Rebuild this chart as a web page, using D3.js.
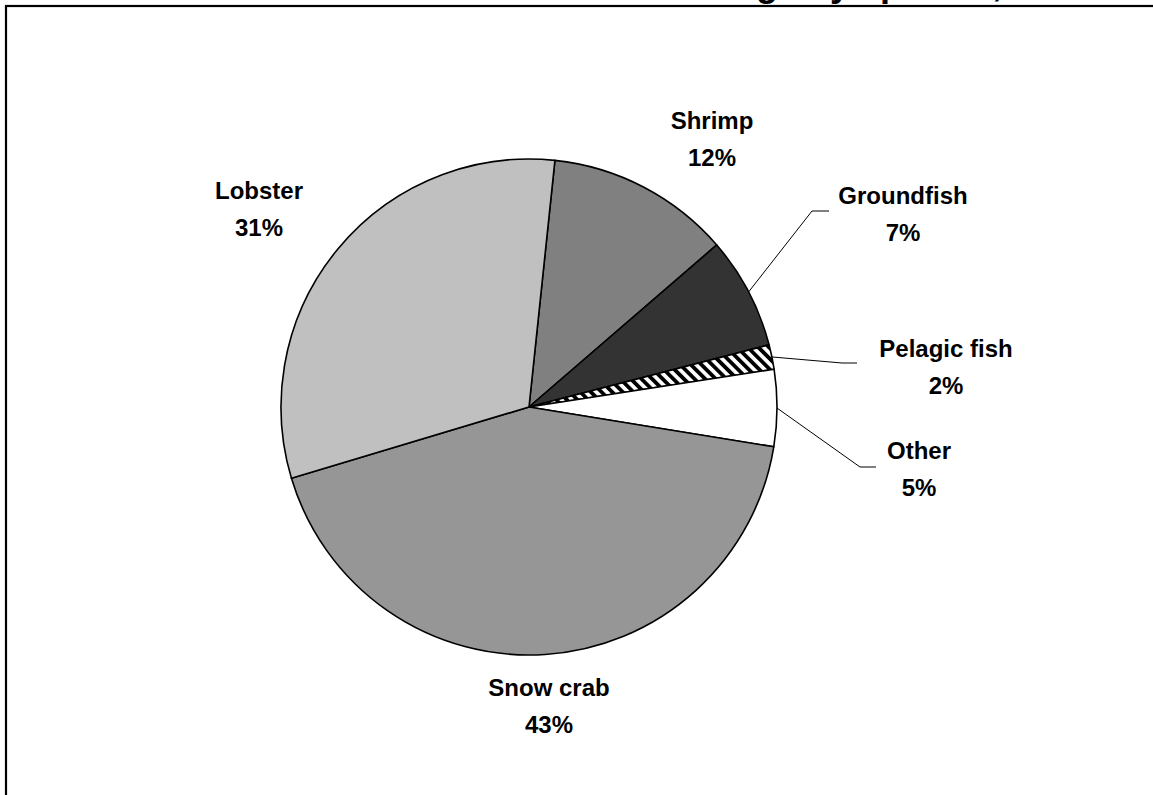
<!DOCTYPE html>
<html>
<head>
<meta charset="utf-8">
<script src="https://cdn.jsdelivr.net/npm/d3@7"></script>
<style>
  html, body { margin: 0; padding: 0; background: #fff; overflow: hidden; }
  svg { display: block; }
  text { font-family: Arial, "Liberation Sans", sans-serif; font-weight: bold; }
</style>
</head>
<body>
<svg id="chart" width="1153" height="795"></svg>
<script>
// ---- data ----
const categories = ["Shrimp", "Groundfish", "Pelagic fish", "Other", "Snow crab", "Lobster"];
const shares = [12.0, 7.3, 1.6, 5.0, 42.8, 31.3];
const titleText = "Value of landings by species, 2006";

// ---- layout / style (separate from data) ----
const fills = {
  "Shrimp": "#808080",
  "Groundfish": "#333333",
  "Pelagic fish": "url(#hatch)",
  "Other": "#ffffff",
  "Snow crab": "#969696",
  "Lobster": "#c0c0c0"
};
// label anchor offsets from pie centre (first line baseline)
const labelPos = {
  "Shrimp": [183, -278],
  "Lobster": [-270, -208],
  "Groundfish": [374, -203],
  "Pelagic fish": [417, -50],
  "Other": [390, 52],
  "Snow crab": [20, 289]
};
// leader line elbow & end (relative to centre) for small slices
const leaders = {
  "Groundfish": [[283, -196], [300, -196]],
  "Pelagic fish": [[313, -44], [328, -44]],
  "Other": [[331, 60], [347, 60]]
};

const svg = d3.select("#chart");
const cx = 529, cy = 407, R = 248;

const defs = svg.append("defs");
const pat = defs.append("pattern")
  .attr("id", "hatch")
  .attr("patternUnits", "userSpaceOnUse")
  .attr("width", 7.5).attr("height", 7.5)
  .attr("patternTransform", "rotate(-45)");
pat.append("rect").attr("width", 7.5).attr("height", 7.5).attr("fill", "#fff");
pat.append("rect").attr("width", 3.8).attr("height", 7.5).attr("fill", "#000");

// frame (extends beyond the viewport like the reference)
svg.append("rect")
  .attr("x", 6).attr("y", 6)
  .attr("width", 1400).attr("height", 1000)
  .attr("fill", "none").attr("stroke", "#000").attr("stroke-width", 2.2);

// title, mostly cut off at the top (as in the reference)
svg.append("text")
  .attr("x", 502).attr("y", -4)
  .attr("font-size", 36)
  .attr("fill", "#000")
  .text(titleText);

const data = categories.map((c, i) => ({ name: c, value: shares[i] }));
const total = d3.sum(shares);

const start = 6 * Math.PI / 180;
const pie = d3.pie().sort(null).value(d => d.value)
  .startAngle(start).endAngle(start + 2 * Math.PI);
const arcs = pie(data);
const arc = d3.arc().innerRadius(0).outerRadius(R);

const g = svg.append("g").attr("transform", `translate(${cx},${cy})`);

g.selectAll("path.slice")
  .data(arcs)
  .join("path")
  .attr("class", "slice")
  .attr("d", arc)
  .attr("fill", d => fills[d.data.name])
  .attr("stroke", "#000")
  .attr("stroke-width", 1.6)
  .attr("stroke-linejoin", "round");

// leader lines
arcs.filter(d => leaders[d.data.name]).forEach(d => {
  const mid = (d.startAngle + d.endAngle) / 2;
  const p0 = [R * Math.sin(mid), -R * Math.cos(mid)];
  const pts = [p0].concat(leaders[d.data.name]);
  g.append("path")
    .attr("d", d3.line()(pts))
    .attr("fill", "none")
    .attr("stroke", "#000")
    .attr("stroke-width", 1);
});

// labels
arcs.forEach(d => {
  const [lx, ly] = labelPos[d.data.name];
  const t = g.append("text")
    .attr("x", lx).attr("y", ly)
    .attr("text-anchor", "middle")
    .attr("font-size", 24)
    .attr("fill", "#000");
  t.append("tspan").attr("x", lx).attr("y", ly).text(d.data.name);
  t.append("tspan").attr("x", lx).attr("y", ly + 37)
    .text(Math.round(d.data.value / total * 100) + "%");
});
</script>
</body>
</html>
